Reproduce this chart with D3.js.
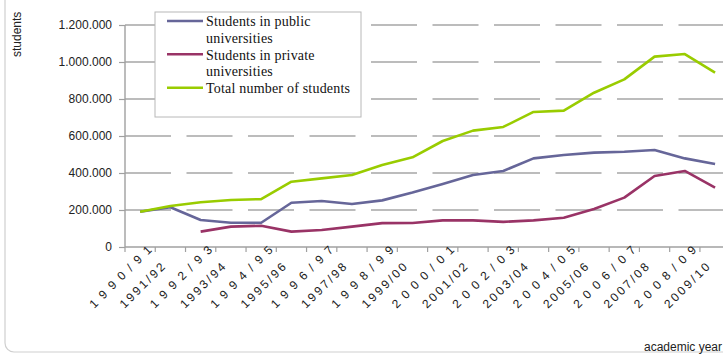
<!DOCTYPE html>
<html>
<head>
<meta charset="utf-8">
<script src="https://cdn.jsdelivr.net/npm/d3@7"></script>
<style>
  html, body { margin: 0; padding: 0; background: #fff; }
  svg { display: block; }
</style>
</head>
<body>
<svg id="chart" width="723" height="358"></svg>
<script>
// ---- data ----
const years = ["1990/91","1991/92","1992/93","1993/94","1994/95","1995/96","1996/97","1997/98","1998/99","1999/00",
               "2000/01","2001/02","2002/03","2003/04","2004/05","2005/06","2006/07","2007/08","2008/09","2009/10"];
const publicStudents  = [191000,215000,146000,131000,131000,239000,249000,232000,252000,294000,
                         341000,389000,411000,479000,497000,510000,515000,524000,479000,449000];
const privateStudents = [null,null,83000,110000,115000,83000,92000,110000,129000,130000,
                         144000,144000,136000,144000,158000,205000,267000,384000,411000,321000];
const totalStudents   = [191000,222000,242000,254000,259000,353000,371000,389000,443000,485000,
                         573000,629000,649000,730000,737000,834000,906000,1029000,1043000,942000];
const yTicks = [0,200000,400000,600000,800000,1000000,1200000];
const seriesNames = ["Students in public universities","Students in private universities","Total number of students"];
const seriesColors = ["#666699","#993366","#99CC00"];
const yTitle = "students";
const xTitle = "academic year";

// ---- drawing ----
(function () {
const svg = d3.select("#chart");
const plotLeft = 125, plotBottom = 247, plotTop = 25;
const step = 30.26;
const x = d3.scaleBand().domain(years).range([plotLeft, plotLeft + step * years.length]).padding(0);
const y = d3.scaleLinear().domain([0, 1200000]).range([plotBottom, plotTop]);
const cx = d => x(d) + x.bandwidth() / 2;
const loc = d3.formatLocale({decimal: ",", thousands: ".", grouping: [3], currency: ["", ""]});
const fmt = loc.format(",d");

// outer rounded frame
svg.append("rect").attr("x", 5).attr("y", -12).attr("width", 740).attr("height", 364)
  .attr("rx", 9).attr("fill", "none").attr("stroke", "#cfcfcf").attr("stroke-width", 1.2);

// gridlines (dashed)
svg.append("g").selectAll("line").data(yTicks.filter(v => v > 0)).join("line")
  .attr("x1", plotLeft).attr("x2", 740)
  .attr("y1", d => y(d)).attr("y2", d => y(d))
  .attr("stroke", "#a6a6a6").attr("stroke-width", 1.3)
  .attr("stroke-dasharray", "46,15.5");

// y axis
const yAxis = d3.axisLeft(y).tickValues(yTicks).tickFormat(fmt).tickSize(6).tickPadding(7);
const gy = svg.append("g").attr("transform", `translate(${plotLeft},0)`).call(yAxis);
gy.select(".domain").attr("stroke", "#a0a0a0").attr("stroke-width", 1.4).attr("d", `M0,${plotTop}V${plotBottom}`);
gy.selectAll(".tick line").attr("stroke", "#a0a0a0").attr("stroke-width", 1.2);
gy.selectAll(".tick text").attr("font-family", "Liberation Sans, Arial, sans-serif")
  .attr("font-size", 12).attr("fill", "#222");

// x axis baseline and ticks at category boundaries
const boundaries = years.map(d => x(d)).concat([x(years[years.length - 1]) + x.bandwidth()]);
svg.append("line").attr("x1", plotLeft).attr("x2", 740).attr("y1", plotBottom).attr("y2", plotBottom)
  .attr("stroke", "#a0a0a0").attr("stroke-width", 1.4);
svg.append("g").selectAll("line").data(boundaries).join("line")
  .attr("x1", d => d).attr("x2", d => d).attr("y1", plotBottom).attr("y2", plotBottom + 5)
  .attr("stroke", "#a0a0a0").attr("stroke-width", 1.2);

// x tick labels (rotated)
svg.append("g").selectAll("text").data(years).join("text")
  .attr("transform", d => `translate(${cx(d) - 46},${309}) rotate(-45)`)
  .attr("font-family", "Liberation Sans, Arial, sans-serif")
  .attr("font-size", 12).attr("fill", "#1a1a1a")
  .attr("letter-spacing", (d, i) => i % 2 === 0 ? 6.5 : 2.5)
  .text(d => d);

// lines
const lineGen = d3.line().defined(d => d.v != null).x(d => cx(d.year)).y(d => y(d.v));
const allSeries = [publicStudents, privateStudents, totalStudents];
allSeries.forEach((vals, k) => {
  svg.append("path")
    .datum(years.map((yr, i) => ({year: yr, v: vals[i]})))
    .attr("fill", "none").attr("stroke", seriesColors[k]).attr("stroke-width", 2.6)
    .attr("stroke-linejoin", "round").attr("d", lineGen);
});

// legend
const lg = svg.append("g");
lg.append("rect").attr("x", 155).attr("y", 12).attr("width", 206).attr("height", 105)
  .attr("fill", "#fff").attr("stroke", "#b8b8b8").attr("stroke-width", 1);
const legendRows = [
  {lineY: 21, lines: ["Students in public", "universities"]},
  {lineY: 54.3, lines: ["Students in private", "universities"]},
  {lineY: 87.7, lines: ["Total number of students"]}
];
legendRows.forEach((r, k) => {
  lg.append("line").attr("x1", 167).attr("x2", 203).attr("y1", r.lineY).attr("y2", r.lineY)
    .attr("stroke", seriesColors[k]).attr("stroke-width", 2.6);
  r.lines.forEach((t, j) => {
    lg.append("text").attr("x", 206).attr("y", r.lineY + 5.2 + j * 16.6)
      .attr("font-family", "Liberation Serif, Times New Roman, serif")
      .attr("font-size", 14).attr("letter-spacing", 0.2).attr("fill", "#111")
      .text(t);
  });
});

// axis titles
svg.append("defs").append("clipPath").attr("id", "ytclip")
  .append("rect").attr("x", 0).attr("y", 12).attr("width", 40).attr("height", 80);
svg.append("g").attr("clip-path", "url(#ytclip)")
  .append("text")
  .attr("transform", "translate(21,57) rotate(-90)")
  .attr("font-family", "Liberation Sans, Arial, sans-serif").attr("font-size", 12).attr("fill", "#222")
  .text(yTitle);
svg.append("text").attr("x", 722).attr("y", 351).attr("text-anchor", "end")
  .attr("font-family", "Liberation Sans, Arial, sans-serif").attr("font-size", 12).attr("fill", "#222")
  .text(xTitle);
})();
</script>
</body>
</html>
